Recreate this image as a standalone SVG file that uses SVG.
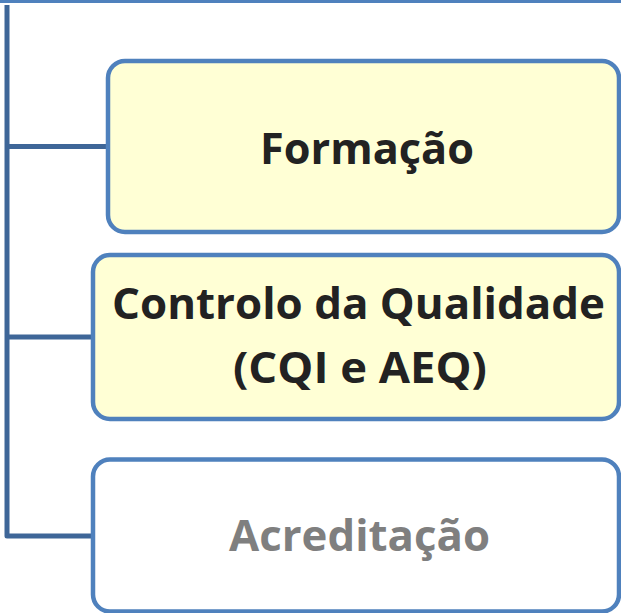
<svg xmlns="http://www.w3.org/2000/svg" width="621" height="613" viewBox="0 0 621 613">
<style>
.box{stroke:#4f81bd;stroke-width:4.5}
.hl{fill:#ffffd5}
.plain{fill:#ffffff}
.conn{fill:none;stroke:#3e6698;stroke-width:5;stroke-linejoin:round}
.lbl{font-family:"Open Sans","Liberation Sans",sans-serif;font-weight:bold;font-size:43px;text-anchor:middle}
.dark{fill:#222222}
.grey{fill:#7f7f7f}
</style>
<rect width="621" height="613" fill="#ffffff"/>
<line x1="0" y1="1.5" x2="621" y2="1.5" stroke="#4f81bd" stroke-width="3"/>
<g id="connectors">
<path class="conn" d="M7,5 V536 H93"/>
<path class="conn" d="M7,146.5 H108"/>
<path class="conn" d="M7,337 H93"/>
</g>
<g id="node-formacao">
<rect class="box hl" x="108" y="61" width="511" height="171" rx="17"/>
<text class="lbl dark" x="367" y="164" textLength="214" lengthAdjust="spacingAndGlyphs">Formação</text>
</g>
<g id="node-controlo">
<rect class="box hl" x="93" y="255" width="526" height="164" rx="17"/>
<text class="lbl dark" x="358.5" y="319" textLength="493" lengthAdjust="spacingAndGlyphs">Controlo da Qualidade</text>
<text class="lbl dark" x="360" y="383" textLength="254" lengthAdjust="spacingAndGlyphs">(CQI e AEQ)</text>
</g>
<g id="node-acreditacao">
<rect class="box plain" x="93" y="459.5" width="526" height="152" rx="17"/>
<text class="lbl grey" x="359.5" y="551" textLength="261" lengthAdjust="spacingAndGlyphs">Acreditação</text>
</g>
</svg>
